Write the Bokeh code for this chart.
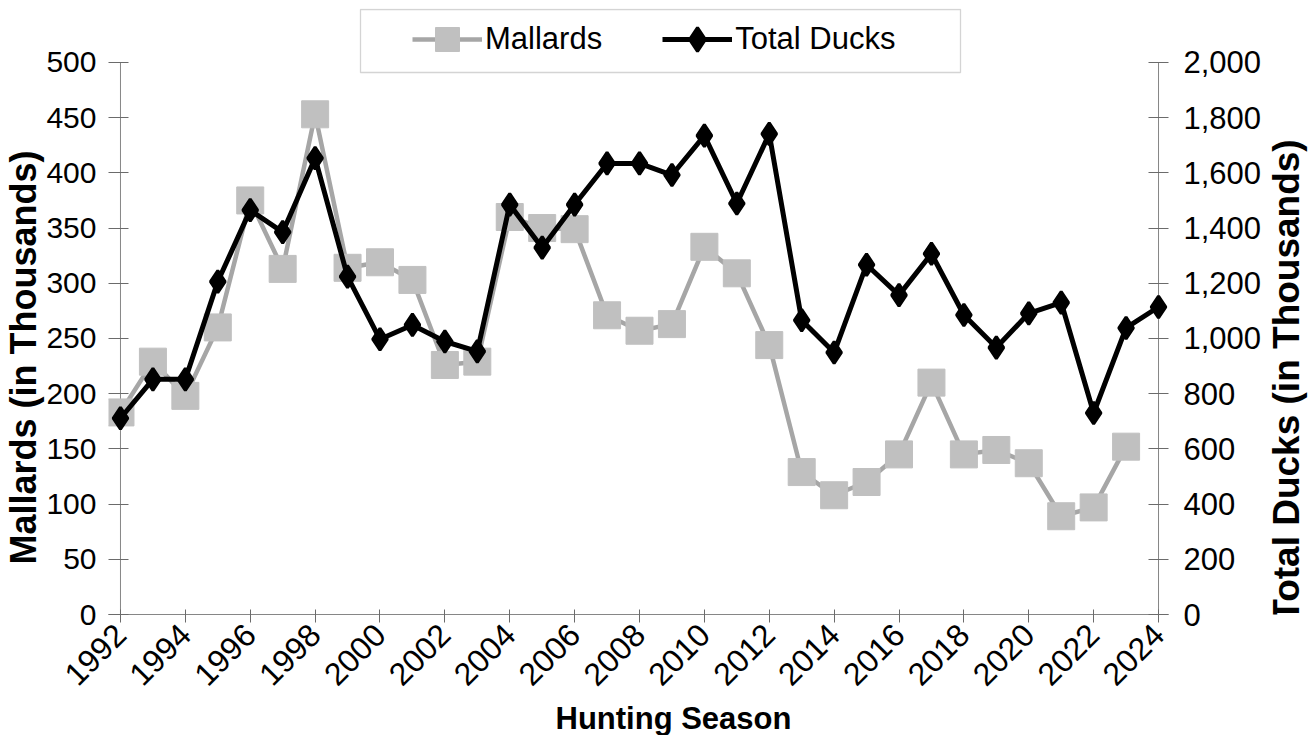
import math
from bokeh.plotting import figure
from bokeh.layouts import row
from bokeh.models import (Range1d, LinearAxis, FixedTicker, NumeralTickFormatter,
                          Legend, LegendItem, Title, Label, BoxAnnotation)
from bokeh.embed import file_html
from bokeh.resources import INLINE

# ---- data ----
years = [1992, 1993, 1994, 1995, 1996, 1997, 1998, 1999, 2000, 2001, 2002,
         2003, 2004, 2005, 2006, 2007, 2008, 2009, 2010, 2011, 2012, 2013,
         2014, 2015, 2016, 2017, 2018, 2019, 2020, 2021, 2022, 2023, 2024]
mallard_years = years[:-1]
mallards = [183, 229, 198, 260, 375, 313, 453, 314, 319, 303, 226, 229, 360,
            350, 349, 271, 257, 263, 333, 309, 244, 129, 108, 120, 145, 210,
            145, 149, 137, 89, 97, 152]
total_ducks = [711, 852, 852, 1206, 1465, 1385, 1653, 1224, 997, 1049, 989,
               953, 1485, 1329, 1485, 1634, 1634, 1592, 1735, 1489, 1741, 1066,
               949, 1267, 1157, 1307, 1085, 967, 1091, 1130, 730, 1038, 1114]
x_ticks = [1992, 1994, 1996, 1998, 2000, 2002, 2004, 2006, 2008, 2010, 2012,
           2014, 2016, 2018, 2020, 2022, 2024]
left_ticks = [0, 50, 100, 150, 200, 250, 300, 350, 400, 450, 500]
right_ticks = [0, 200, 400, 600, 800, 1000, 1200, 1400, 1600, 1800, 2000]

FONT = "Liberation Sans"
AX = "#868686"
TK = "#6b6b6b"

# ---- geometry (pixels) ----
W, H = 1264, 735          # main chart; a strip on the right holds the right title
STRIP_W = 44
F_LEFT, F_RIGHT, F_TOP, F_BOTTOM = 108, 1170, 8, 615
AX_X0, AX_X1, AX_Y500 = 120, 1160, 62
px_per_year = (AX_X1 - AX_X0) / (years[-1] - years[0])
px_per_unit = (F_BOTTOM - AX_Y500) / left_ticks[-1]
x_lo = years[0] - (AX_X0 - F_LEFT) / px_per_year
x_hi = years[-1] + (F_RIGHT - AX_X1) / px_per_year
y_hi = (F_BOTTOM - F_TOP) / px_per_unit
y2_hi = y_hi * right_ticks[-1] / left_ticks[-1]

p = figure(width=W, height=H, output_backend="svg", toolbar_location=None,
           x_range=Range1d(x_lo, x_hi), y_range=Range1d(0, y_hi),
           min_border_left=F_LEFT, min_border_right=W - F_RIGHT,
           min_border_top=F_TOP, min_border_bottom=H - F_BOTTOM)
p.extra_y_ranges = {"ducks": Range1d(0, y2_hi)}
p.outline_line_color = None
p.xgrid.visible = False
p.ygrid.visible = False
p.background_fill_color = "white"
p.border_fill_color = "white"

# bottom axis
xa = p.xaxis[0]
xa.ticker = FixedTicker(ticks=x_ticks)
xa.minor_tick_line_color = None
xa.axis_line_color = AX
xa.major_tick_line_color = TK
xa.major_tick_in = 5
xa.major_tick_out = 8
xa.major_label_orientation = math.pi / 4
xa.major_label_text_font = FONT
xa.major_label_text_font_size = "32px"
xa.major_label_text_color = "black"
xa.major_label_standoff = 7

# left axis
ya = p.yaxis[0]
ya.ticker = FixedTicker(ticks=left_ticks)
ya.minor_tick_line_color = None
ya.axis_line_color = None
ya.major_tick_line_color = TK
ya.major_tick_in = 20
ya.major_tick_out = 0
ya.major_label_text_font = FONT
ya.major_label_text_font_size = "30px"
ya.major_label_text_color = "black"
ya.major_label_standoff = 12

# right axis
ra = LinearAxis(y_range_name="ducks", ticker=FixedTicker(ticks=right_ticks),
                formatter=NumeralTickFormatter(format="0,0"))
ra.minor_tick_line_color = None
ra.axis_line_color = None
ra.major_tick_line_color = TK
ra.major_tick_in = 20
ra.major_tick_out = 0
ra.major_label_text_font = FONT
ra.major_label_text_font_size = "31px"
ra.major_label_text_color = "black"
ra.major_label_standoff = 15
p.add_layout(ra, "right")

# axis titles
p.add_layout(Title(text="Mallards (in Thousands)", align="left", offset=50,
                   vertical_align="bottom", standoff=0, text_font=FONT,
                   text_font_style="bold", text_font_size="36px",
                   text_color="black"), "left")
p.add_layout(Title(text="Hunting Season", align="left", offset=447,
                   standoff=0, text_font=FONT, text_font_style="bold",
                   text_font_size="31px", text_color="black"), "below")

# axis lines at the first / last season
p.line([years[0], years[0]], [left_ticks[0], left_ticks[-1]],
       line_color=AX, line_width=1)
p.line([years[-1], years[-1]], [right_ticks[0], right_ticks[-1]],
       line_color=AX, line_width=1, y_range_name="ducks")

# series
m_line = p.line(mallard_years, mallards, line_color="#a6a6a6", line_width=4.5)
m_pts = p.scatter(mallard_years, mallards, marker="square", size=27,
                  fill_color="#c0c0c0", line_color="#c0c0c0", line_width=1)
t_line = p.line(years, total_ducks, line_color="black", line_width=5,
                y_range_name="ducks")
t_pts = p.scatter(years, total_ducks, marker="diamond", size=22,
                  fill_color="black", line_color="black", line_width=3,
                  y_range_name="ducks")

legend = Legend(items=[LegendItem(label="Mallards", renderers=[m_line, m_pts]),
                       LegendItem(label="Total Ducks", renderers=[t_line, t_pts])],
                orientation="horizontal", location=(302, 543),
                glyph_width=70, glyph_height=60, label_standoff=3, spacing=60,
                padding=2, margin=0,
                label_text_font=FONT, label_text_font_size="31px",
                label_text_color="black",
                border_line_alpha=0, background_fill_alpha=0)
p.add_layout(legend, "center")

p.add_layout(BoxAnnotation(left=360, right=960, top=9, bottom=72,
                           left_units="canvas", right_units="canvas",
                           top_units="canvas", bottom_units="canvas",
                           fill_alpha=0, line_color="#6f6f6f", line_width=1.3))

# right strip carrying the right-hand axis title (reads bottom to top)
p2 = figure(width=STRIP_W, height=H, output_backend="svg", toolbar_location=None,
            x_range=Range1d(0, 1), y_range=Range1d(0, 1),
            x_axis_location=None, y_axis_location=None,
            min_border_left=0, min_border_right=0, min_border_top=0,
            min_border_bottom=0)
p2.outline_line_color = None
p2.grid.visible = False
p2.background_fill_color = "white"
p2.border_fill_color = "white"
p2.add_layout(Label(x=22, y=380, x_units="canvas", y_units="canvas",
                    text="Total Ducks (in Thousands)", angle=math.pi / 2,
                    text_align="center", text_baseline="middle",
                    text_font=FONT, text_font_style="bold",
                    text_font_size="37px", text_color="black"))

layout = row(p, p2, spacing=0)
open("out.html", "w").write(file_html(layout, INLINE))
